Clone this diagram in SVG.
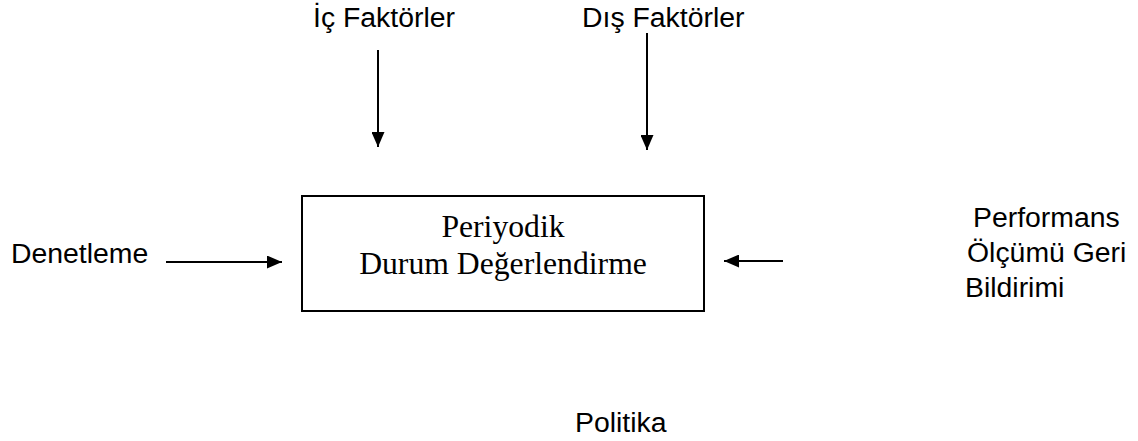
<svg xmlns="http://www.w3.org/2000/svg" width="1138" height="441" viewBox="0 0 1138 441">
<style>
.s{font-family:"Liberation Sans",Arial,sans-serif;font-size:28.4px;fill:#000}
.t{font-family:"Liberation Serif","Times New Roman",serif;font-size:31.7px;fill:#000}
.c{stroke:#000;stroke-width:2;fill:none}
</style>
<defs>
<marker id="ah" markerWidth="15" markerHeight="13" refX="15" refY="6.5" orient="auto" markerUnits="userSpaceOnUse" viewBox="0 0 15 13"><path d="M0,0 L15,6.5 L0,13 z" fill="#000"/></marker>
</defs>
<rect width="1138" height="441" fill="#fff"/>
<g id="ic"><text class="s" x="313" y="27">İç Faktörler</text></g>
<g id="dis"><text class="s" x="582" y="27">Dış Faktörler</text></g>
<g id="box"><rect x="302" y="196" width="402" height="115" fill="#fff" stroke="#000" stroke-width="2"/>
<text class="t" x="503" y="237" text-anchor="middle">Periyodik</text>
<text class="t" x="503" y="274" text-anchor="middle">Durum Değerlendirme</text></g>
<g id="denetleme"><text class="s" x="11" y="263">Denetleme</text></g>
<g id="perf"><text class="s" x="973" y="227">Performans</text><text class="s" x="967" y="262">Ölçümü Geri</text><text class="s" x="965" y="297">Bildirimi</text></g>
<g id="politika"><text class="s" x="575" y="432">Politika</text></g>
<g id="connectors">
<line class="c" x1="378" y1="50" x2="378" y2="147" marker-end="url(#ah)"/>
<line class="c" x1="647" y1="33" x2="647" y2="150" marker-end="url(#ah)"/>
<line class="c" x1="166" y1="262" x2="282" y2="262" marker-end="url(#ah)"/>
<line class="c" x1="783" y1="261" x2="724" y2="261" marker-end="url(#ah)"/>
</g>
</svg>
